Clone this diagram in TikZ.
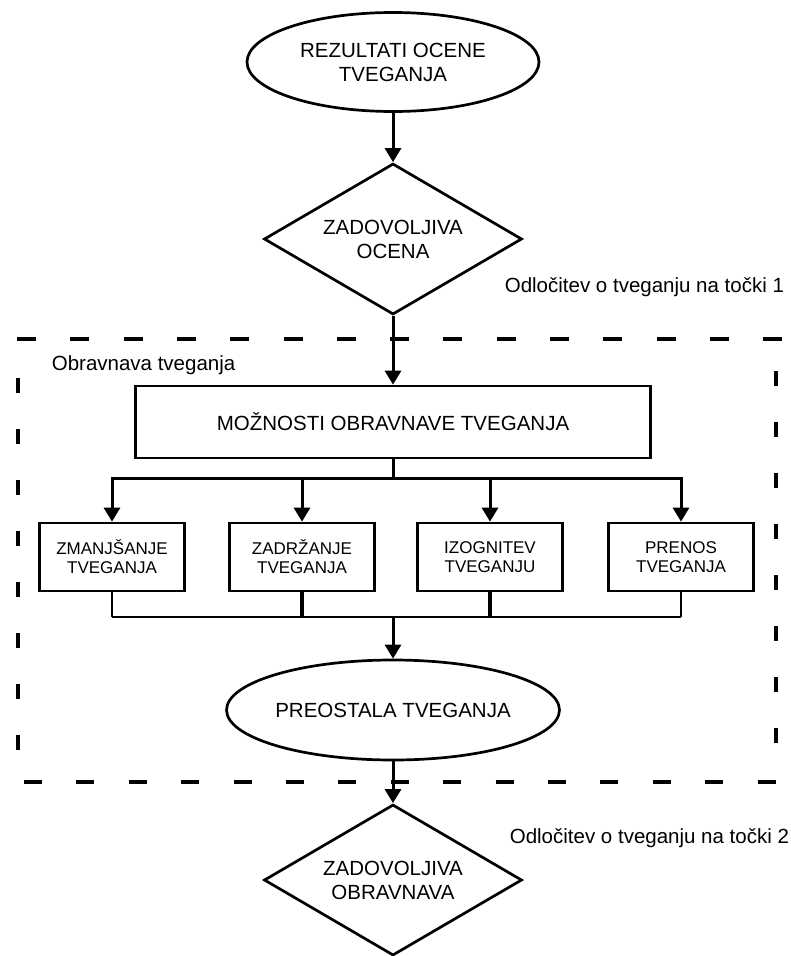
\documentclass[tikz,border=0pt]{standalone}
\usepackage{fontspec}
\setmainfont{Liberation Sans}
\usetikzlibrary{shapes.geometric,arrows.meta,positioning}

\begin{document}
\begin{tikzpicture}[x=1pt,y=-1pt,
  font=\fontsize{20.5}{24}\selectfont,
  line width=3pt,
  msg/.style={-{Triangle[length=14pt,width=16pt]}},
  oval/.style={draw,ellipse,line width=2.7pt,inner sep=0pt,minimum width=292pt,minimum height=99pt,align=center},
  choice/.style={draw,diamond,aspect=1.7,line width=2.7pt,inner sep=0pt,minimum width=258pt,minimum height=151pt,align=center},
  optbox/.style={draw,rectangle,line width=2.7pt,minimum width=145pt,minimum height=68pt,align=center,font=\fontsize{17}{19}\selectfont},
  frame/.style={line width=3.5pt},
]
  \useasboundingbox (0,0) rectangle (791,956);

  % dashed frame of the treatment area
  \draw[frame,dash pattern=on 19pt off 34.3pt] (17,339) -- (782,339);
  \draw[frame,dash pattern=on 18pt off 34.4pt] (24,782) -- (782,782);
  \draw[frame,dash pattern=on 15pt off 36pt] (18,378) -- (18,770);
  \draw[frame,dash pattern=on 15pt off 36pt] (776,371) -- (776,770);

  \node[oval] (res) at (393,62) {REZULTATI OCENE\\TVEGANJA};
  \node[choice] (dec1) at (393,239) {ZADOVOLJIVA\\OCENA};
  \node[anchor=base west] (note1) at (500,292) {Odločitev o tveganju na točki 1};
  \node[anchor=base west] (area) at (47,370) {Obravnava tveganja};
  \node[draw,line width=2.7pt,minimum width=515pt,minimum height=72pt] (opts) at (393,422) {MOŽNOSTI OBRAVNAVE TVEGANJA};
  \foreach \i/\txt/\x in {1/{ZMANJŠANJE\\TVEGANJA}/112,2/{ZADRŽANJE\\TVEGANJA}/302,3/{IZOGNITEV\\TVEGANJU}/490,4/{PRENOS\\TVEGANJA}/681} {
    \node[optbox] (opt\i) at (\x,557) {\txt};
  }
  \node[oval,minimum width=297pt,minimum height=100pt] (rem) at (393,710) {PREOSTALA TVEGANJA};
  \node[choice] (dec2) at (393,880) {ZADOVOLJIVA\\OBRAVNAVA};
  \node[anchor=base west] (note2) at (505,843) {Odločitev o tveganju na točki 2};

  \coordinate (fork) at (393,478);
  \coordinate (join) at (393,617);

  \draw[msg] (res) -- (dec1);
  \draw[msg] (dec1) -- (opts);
  \draw (opts) -- (fork);
  \foreach \i in {1,...,4} {
    \draw[msg] (fork) -| (opt\i);
  }
  \foreach \i/\w in {1/1.8pt,2/3.5pt,3/3.5pt,4/1.8pt} {
    \draw[line width=\w] (opt\i.south) -- (opt\i.south |- join);
  }
  \draw[line width=2pt] (opt1.south |- join) -- (opt4.south |- join);
  \draw[msg] (join) -- (rem);
  \draw[msg] (rem) -- (dec2);
\end{tikzpicture}
\end{document}
